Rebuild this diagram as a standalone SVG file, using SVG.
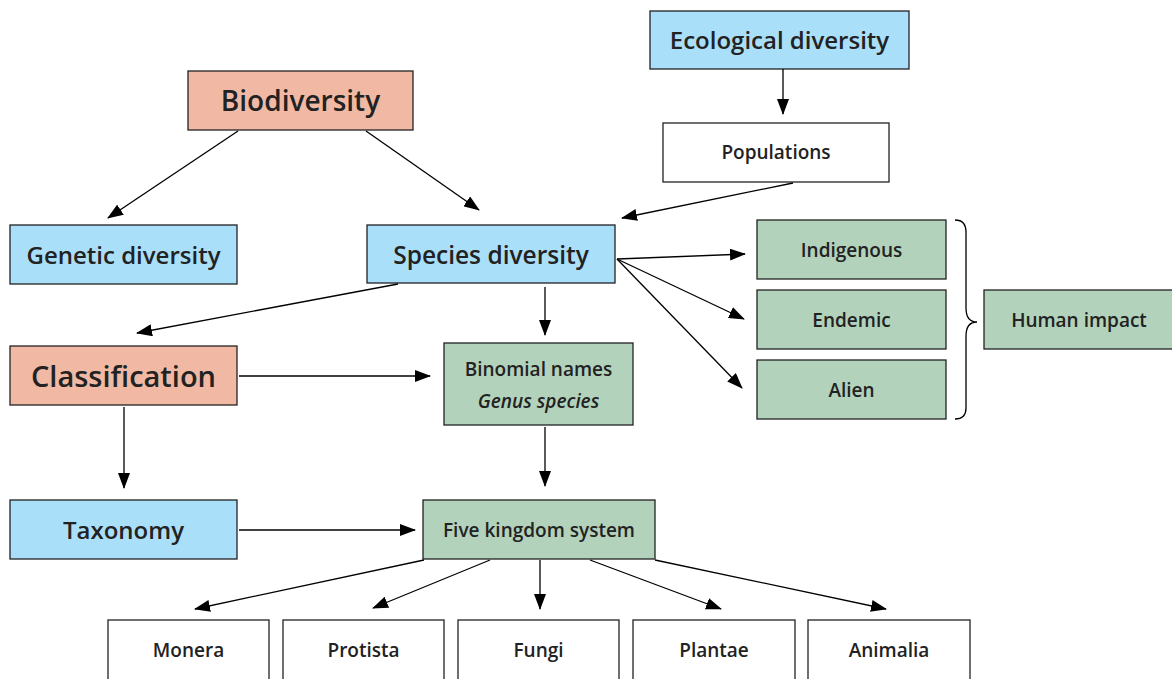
<svg xmlns="http://www.w3.org/2000/svg" width="1172" height="679" viewBox="0 0 1172 679">
<defs>
<marker id="ah" markerUnits="userSpaceOnUse" markerWidth="16" markerHeight="12" refX="15" refY="6" orient="auto">
<path d="M0,0 L16,6 L0,12 Z" fill="#000"/>
</marker>
<style>
rect{stroke:#222;stroke-width:1.3}
.salmon{fill:#f1b9a4}
.blue{fill:#aadff9}
.green{fill:#b3d2bc}
.white{fill:#fff}
text{font-family:"Open Sans","Noto Sans","Liberation Sans",sans-serif;fill:#222;text-anchor:middle;font-weight:600}
.s{font-size:19px}
.c line,.c path{stroke:#000;stroke-width:1.3;fill:none}
.c line{marker-end:url(#ah)}
</style>
</defs>
<rect width="1172" height="679" fill="#fff" style="stroke:none"/>
<g id="biodiversity"><rect class="salmon" x="188" y="71" width="225" height="59"/><text x="300.5" y="111" font-size="28">Biodiversity</text></g>
<g id="ecological"><rect class="blue" x="650" y="11" width="259" height="58"/><text x="779.5" y="49" font-size="24">Ecological diversity</text></g>
<g id="populations"><rect class="white" x="663" y="123" width="226" height="59"/><text class="s" x="776" y="159">Populations</text></g>
<g id="genetic"><rect class="blue" x="10" y="225" width="227" height="59"/><text x="123.5" y="264" font-size="24">Genetic diversity</text></g>
<g id="species"><rect class="blue" x="367" y="225" width="248" height="58"/><text x="491" y="264" font-size="24.5">Species diversity</text></g>
<g id="indigenous"><rect class="green" x="757" y="220" width="189" height="59"/><text class="s" x="851.5" y="257">Indigenous</text></g>
<g id="endemic"><rect class="green" x="757" y="290" width="189" height="59"/><text class="s" x="851.5" y="327">Endemic</text></g>
<g id="alien"><rect class="green" x="757" y="360" width="189" height="59"/><text class="s" x="851.5" y="397">Alien</text></g>
<g id="humanimpact"><rect class="green" x="984" y="290" width="190" height="59"/><text class="s" x="1079" y="327">Human impact</text></g>
<g id="classification"><rect class="salmon" x="10" y="346" width="227" height="59"/><text x="123.5" y="387" font-size="29">Classification</text></g>
<g id="binomial"><rect class="green" x="444" y="343" width="189" height="82"/><text class="s" x="538.5" y="376">Binomial names</text><text class="s" x="538.5" y="408" font-style="italic" font-weight="500">Genus species</text></g>
<g id="taxonomy"><rect class="blue" x="10" y="500" width="227" height="59"/><text x="123.5" y="539" font-size="24">Taxonomy</text></g>
<g id="fivekingdom"><rect class="green" x="423" y="500" width="232" height="59"/><text class="s" x="539" y="537">Five kingdom system</text></g>
<g id="monera"><rect class="white" x="108" y="620" width="161" height="65"/><text class="s" x="188.5" y="657">Monera</text></g>
<g id="protista"><rect class="white" x="283" y="620" width="161" height="65"/><text class="s" x="363.5" y="657">Protista</text></g>
<g id="fungi"><rect class="white" x="458" y="620" width="161" height="65"/><text class="s" x="538.5" y="657">Fungi</text></g>
<g id="plantae"><rect class="white" x="633" y="620" width="162" height="65"/><text class="s" x="714" y="657">Plantae</text></g>
<g id="animalia"><rect class="white" x="808" y="620" width="162" height="65"/><text class="s" x="889" y="657">Animalia</text></g>
<g id="connectors" class="c">
<line x1="783" y1="69" x2="783" y2="114"/>
<line x1="238" y1="131" x2="108" y2="218"/>
<line x1="366" y1="131" x2="479" y2="210"/>
<line x1="793" y1="183" x2="622" y2="218"/>
<line x1="617" y1="259" x2="745" y2="254"/>
<line x1="617" y1="259" x2="744" y2="319"/>
<line x1="617" y1="259" x2="742" y2="388"/>
<line x1="545" y1="287" x2="545" y2="335"/>
<line x1="398" y1="284" x2="137" y2="333"/>
<line x1="239" y1="376" x2="430" y2="376"/>
<line x1="124" y1="407" x2="124" y2="488"/>
<line x1="545" y1="427" x2="545" y2="486"/>
<line x1="239" y1="530" x2="415" y2="530"/>
<line x1="424" y1="560" x2="195" y2="609"/>
<line x1="490" y1="560" x2="373" y2="608"/>
<line x1="540" y1="560" x2="540" y2="609"/>
<line x1="590" y1="560" x2="721" y2="609"/>
<line x1="655" y1="560" x2="886" y2="609"/>
<path d="M955,220 Q966,220 966,232 L966,308 Q966,322 977,322 Q966,322 966,336 L966,408 Q966,419 955,419"/>
</g>
</svg>
